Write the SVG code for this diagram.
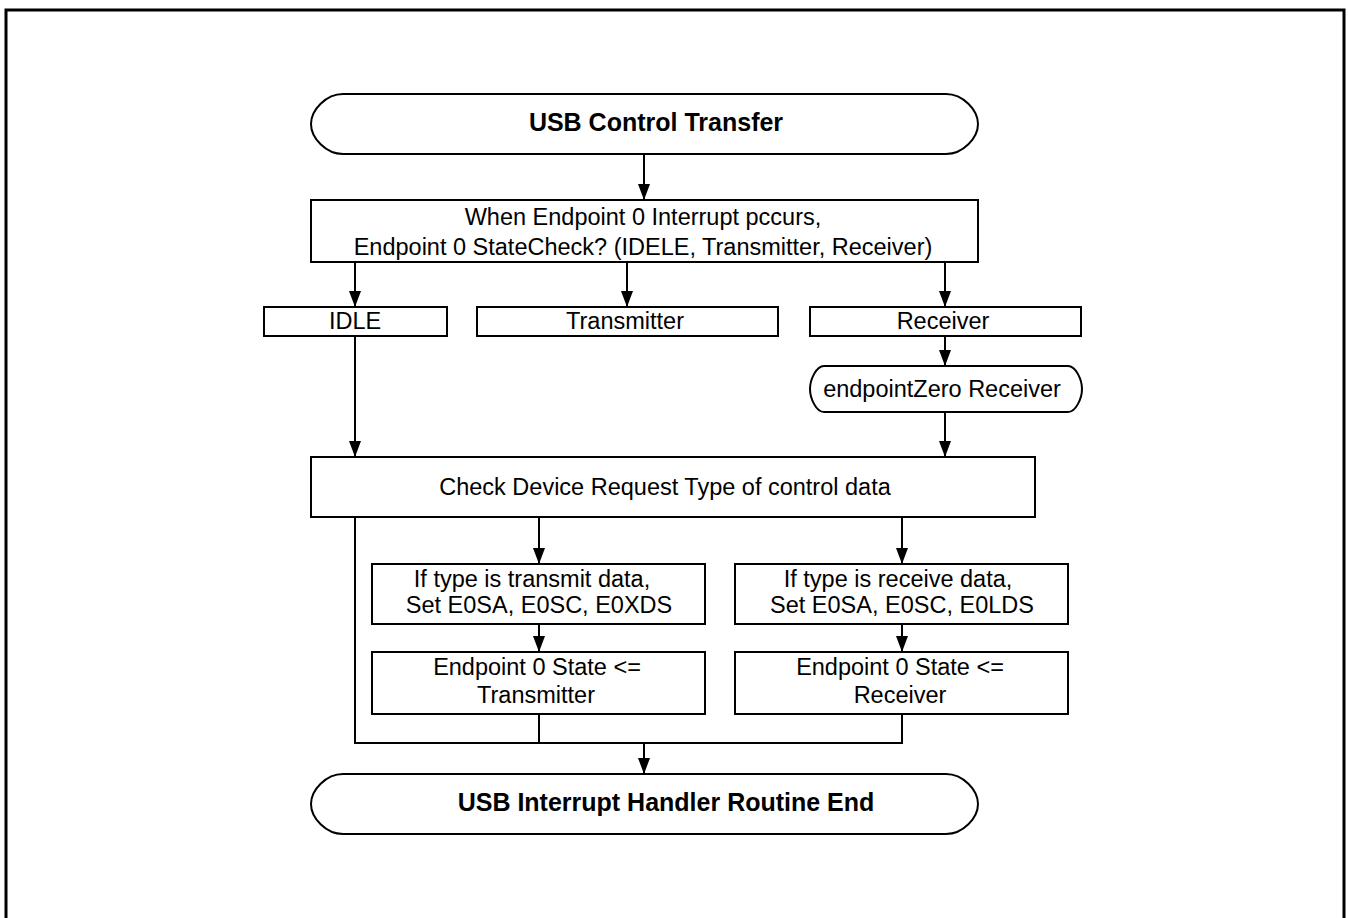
<svg xmlns="http://www.w3.org/2000/svg" width="1348" height="918" viewBox="0 0 1348 918">
  <style>
    .box { fill: #fff; stroke: #000; stroke-width: 2; }
    .frame { fill: none; stroke: #000; stroke-width: 3; }
    .wire { fill: none; stroke: #000; stroke-width: 2; }
    text { font-family: "Liberation Sans", Arial, sans-serif; font-size: 23.5px; fill: #000; text-anchor: middle; }
    .bold { font-weight: bold; font-size: 25px; }
  </style>
  <defs>
    <marker id="arrow" viewBox="0 0 16 12" refX="16" refY="6" markerWidth="16" markerHeight="12" markerUnits="userSpaceOnUse" orient="auto">
      <path d="M0,0 L16,6 L0,12 Z" fill="#000"/>
    </marker>
  </defs>
  <rect width="1348" height="918" fill="#fff"/>
  <path class="frame" d="M6,930 V10 H1344 V930"/>

  <g id="connectors">
    <line class="wire" x1="644" y1="154" x2="644" y2="200" marker-end="url(#arrow)"/>
    <line class="wire" x1="355" y1="262" x2="355" y2="307" marker-end="url(#arrow)"/>
    <line class="wire" x1="627" y1="262" x2="627" y2="307" marker-end="url(#arrow)"/>
    <line class="wire" x1="945" y1="262" x2="945" y2="307" marker-end="url(#arrow)"/>
    <line class="wire" x1="945" y1="336" x2="945" y2="366" marker-end="url(#arrow)"/>
    <line class="wire" x1="945" y1="412" x2="945" y2="457" marker-end="url(#arrow)"/>
    <line class="wire" x1="355" y1="336" x2="355" y2="457" marker-end="url(#arrow)"/>
    <line class="wire" x1="539" y1="517" x2="539" y2="564" marker-end="url(#arrow)"/>
    <line class="wire" x1="902" y1="517" x2="902" y2="564" marker-end="url(#arrow)"/>
    <line class="wire" x1="539" y1="624" x2="539" y2="652" marker-end="url(#arrow)"/>
    <line class="wire" x1="902" y1="624" x2="902" y2="652" marker-end="url(#arrow)"/>
    <path class="wire" d="M355,517 V743 H902 V714"/>
    <line class="wire" x1="539" y1="714" x2="539" y2="743"/>
    <line class="wire" x1="644" y1="743" x2="644" y2="774" marker-end="url(#arrow)"/>
  </g>

  <g id="start">
    <path class="box" d="M343,94 H946 C963,94 978,110 978,124 C978,138 963,154 946,154 H343 C326,154 311,138 311,124 C311,110 326,94 343,94 Z"/>
    <text class="bold" x="656" y="131">USB Control Transfer</text>
  </g>

  <g id="state-check">
    <rect class="box" x="311" y="200" width="667" height="62"/>
    <text x="643" y="225">When Endpoint 0 Interrupt pccurs,</text>
    <text x="643" y="255">Endpoint 0 StateCheck? (IDELE, Transmitter, Receiver)</text>
  </g>

  <g id="idle">
    <rect class="box" x="264" y="307" width="183" height="29"/>
    <text x="355" y="329">IDLE</text>
  </g>

  <g id="transmitter">
    <rect class="box" x="477" y="307" width="301" height="29"/>
    <text x="625" y="329">Transmitter</text>
  </g>

  <g id="receiver">
    <rect class="box" x="810" y="307" width="271" height="29"/>
    <text x="943" y="329">Receiver</text>
  </g>

  <g id="endpoint-zero-receiver">
    <path class="box" d="M824,366 H1068 C1076,366 1082,380 1082,389 C1082,398 1076,412 1068,412 H824 C816,412 810,398 810,389 C810,380 816,366 824,366 Z"/>
    <text x="942" y="397">endpointZero Receiver</text>
  </g>

  <g id="check-request">
    <rect class="box" x="311" y="457" width="724" height="60"/>
    <text x="665" y="495">Check Device Request Type of control data</text>
  </g>

  <g id="transmit-setup">
    <rect class="box" x="372" y="564" width="333" height="60"/>
    <text x="532" y="587">If type is transmit data,</text>
    <text x="539" y="613">Set E0SA, E0SC, E0XDS</text>
  </g>

  <g id="receive-setup">
    <rect class="box" x="735" y="564" width="333" height="60"/>
    <text x="898" y="587">If type is receive data,</text>
    <text x="902" y="613">Set E0SA, E0SC, E0LDS</text>
  </g>

  <g id="state-transmitter">
    <rect class="box" x="372" y="652" width="333" height="62"/>
    <text x="537" y="675">Endpoint 0 State &lt;=</text>
    <text x="536" y="703">Transmitter</text>
  </g>

  <g id="state-receiver">
    <rect class="box" x="735" y="652" width="333" height="62"/>
    <text x="900" y="675">Endpoint 0 State &lt;=</text>
    <text x="900" y="703">Receiver</text>
  </g>

  <g id="end">
    <path class="box" d="M343,774 H946 C963,774 978,790 978,804 C978,818 963,834 946,834 H343 C326,834 311,818 311,804 C311,790 326,774 343,774 Z"/>
    <text class="bold" x="666" y="811">USB Interrupt Handler Routine End</text>
  </g>
</svg>
